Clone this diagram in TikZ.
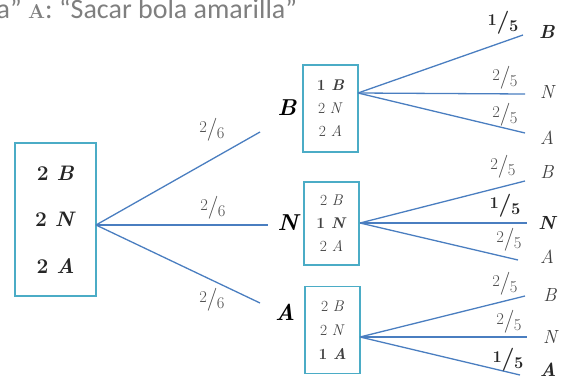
\documentclass[tikz,border=0pt]{standalone}
\usepackage{fontspec}
\newfontfamily\carlito{Carlito}
\definecolor{boxc}{HTML}{4BACC6}
\definecolor{linec}{HTML}{4A7EC0}
\definecolor{txtg}{HTML}{404040}
\definecolor{probg}{HTML}{4A4A4A}
\definecolor{topg}{HTML}{7F7F7F}
\newcommand\skf[2]{\raisebox{0.36em}{\fontsize{16.5}{16.5}\selectfont #1}\kern-0.02em{\fontsize{23}{23}\selectfont /}\kern-0.04em\raisebox{-0.24em}{\fontsize{16.5}{16.5}\selectfont #2}}
\begin{document}
\begin{tikzpicture}[x=1pt,y=-1pt,
  boxnode/.style={draw=boxc, line width=1.4pt, inner sep=0pt, align=center},
  br/.style={draw=linec, line width=1.3pt},
  lvl/.style={font=\fontsize{23}{23}\selectfont\bfseries\itshape, text=black, inner sep=0pt},
  leaf/.style={font=\fontsize{19}{19}\selectfont\itshape, text=txtg, inner sep=0pt},
  leafb/.style={font=\fontsize{19}{19}\selectfont\bfseries\itshape, text=txtg!60!black, inner sep=0pt},
  prob/.style={text=probg, inner sep=0pt},
  probb/.style={text=txtg!60!black, inner sep=0pt, font=\bfseries},
  toptxt/.style={font=\carlito\fontsize{28}{28}\selectfont, text=topg, inner sep=0pt}]
\useasboundingbox (0,0) rectangle (565,380);
\clip (0,0) rectangle (565,380);
% top text
\node[toptxt, anchor=base east] (t1) at (22,18) {a”};
\node[toptxt, anchor=base west] (t2) at (28,18) {{\rmfamily\bfseries\fontsize{20}{20}\selectfont A}: “Sacar bola amarilla”};
% root
\node[boxnode, minimum width=81pt, minimum height=153pt,
      font=\fontsize{21}{46.5}\selectfont\bfseries, text=black!85] (root) at (55.5,219.5)
      {2 \textit{B}\\2 \textit{N}\\2 \textit{A}};
\coordinate (r0) at (96,225);
\coordinate (eB) at (260,132);
\coordinate (eN) at (268,225);
\coordinate (eA) at (260,303);
\draw[br] (r0) -- (eB);
\draw[br] (r0) -- (eN);
\draw[br] (r0) -- (eA);
\node[prob] (p1) at (212,130) {\skf{2}{6}};
\node[prob] (p2) at (213,208) {\skf{2}{6}};
\node[prob] (p3) at (212,300) {\skf{2}{6}};
\node[lvl] (lB) at (287,108) {B};
\node[lvl] (lN) at (288,223) {N};
\node[lvl] (lA) at (285,312) {A};
% second level boxes
\node[boxnode, minimum width=55pt, minimum height=87pt,
      font=\fontsize{15.5}{23}\selectfont, text=txtg] (bB) at (330.5,108.5)
      {\textbf{1 \textit{B}}\\2 \textit{N}\\2 \textit{A}};
\node[boxnode, minimum width=55pt, minimum height=83pt,
      font=\fontsize{15.5}{23}\selectfont, text=txtg] (bN) at (331.5,223.5)
      {2 \textit{B}\\\textbf{1 \textit{N}}\\2 \textit{A}};
\node[boxnode, minimum width=55pt, minimum height=87pt,
      font=\fontsize{15.5}{24}\selectfont, text=txtg] (bA) at (332.5,330)
      {2 \textit{B}\\2 \textit{N}\\\textbf{1 \textit{A}}};
\coordinate (bo) at (358,93);
\coordinate (no) at (360,223);
\coordinate (ao) at (360,337);
% B branches
\coordinate (bBe) at (523,35);
\coordinate (bNe) at (525,94);
\coordinate (bAe) at (525,133);
\draw[br] (bo) -- (bBe);
\draw[br] (bo) -- (bNe);
\draw[br] (bo) -- (bAe);
\node[probb] (q1) at (503,23) {\skf{1}{5}};
\node[prob] (q2) at (505,78) {\skf{2}{5}};
\node[prob] (q3) at (505,115) {\skf{2}{5}};
\node[leafb] (fBB) at (547,32) {B};
\node[leaf] (fBN) at (547,92) {N};
\node[leaf] (fBA) at (547,138) {A};
% N branches
\coordinate (nBe) at (525,181);
\coordinate (nNe) at (527,223);
\coordinate (nAe) at (518,260);
\draw[br] (no) -- (nBe);
\draw[br] (no) -- (nNe);
\draw[br] (no) -- (nAe);
\node[prob] (q4) at (503,167) {\skf{2}{5}};
\node[probb] (q5) at (505,206) {\skf{1}{5}};
\node[prob] (q6) at (509,240) {\skf{2}{5}};
\node[leaf] (fNB) at (547,172) {B};
\node[leafb] (fNN) at (547,223) {N};
\node[leaf] (fNA) at (547,257) {A};
% A branches
\coordinate (aBe) at (525,296);
\coordinate (aNe) at (527,337);
\coordinate (aAe) at (520,375);
\draw[br] (ao) -- (aBe);
\draw[br] (ao) -- (aNe);
\draw[br] (ao) -- (aAe);
\node[prob] (q7) at (505,284) {\skf{2}{5}};
\node[prob] (q8) at (509,322) {\skf{2}{5}};
\node[probb] (q9) at (508,360) {\skf{1}{5}};
\node[leaf] (fAB) at (550,295) {B};
\node[leaf] (fAN) at (550,337) {N};
\node[leafb] (fAA) at (548,370) {A};
\end{tikzpicture}
\end{document}
